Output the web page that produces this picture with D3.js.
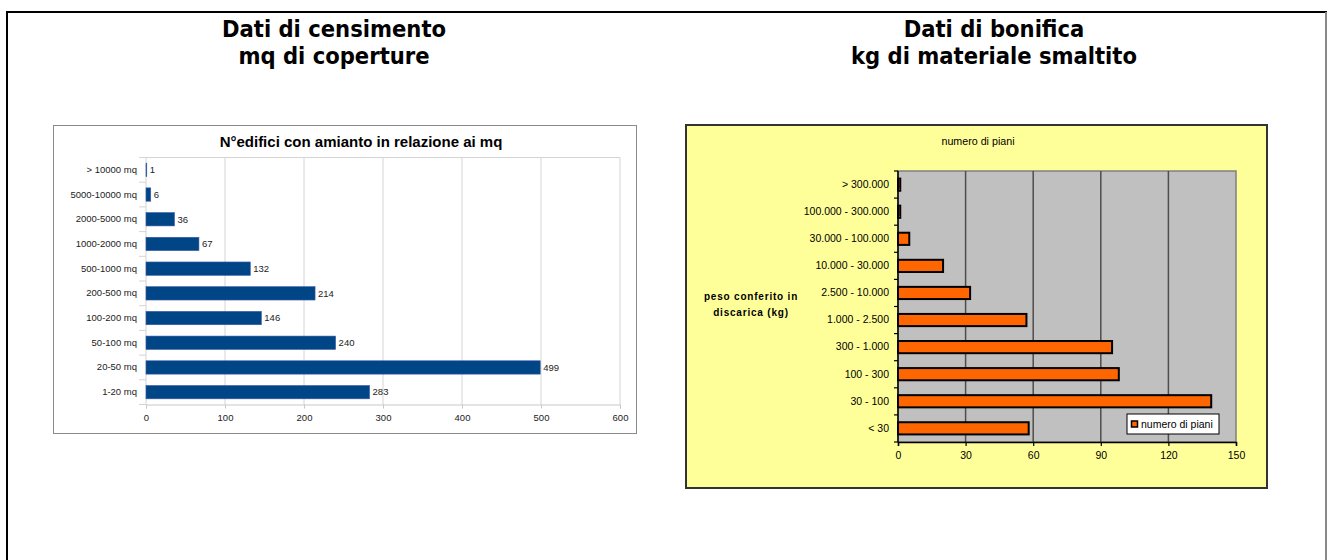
<!DOCTYPE html>
<html>
<head>
<meta charset="utf-8">
<script src="https://cdn.jsdelivr.net/npm/d3@7"></script>
<style>
  body { margin: 0; background: #fff; }
  svg { display: block; }
</style>
</head>
<body>
<div id="chart"></div>
<script>
// --- data ---
var censCats = ["> 10000 mq", "5000-10000 mq", "2000-5000 mq", "1000-2000 mq", "500-1000 mq",
                "200-500 mq", "100-200 mq", "50-100 mq", "20-50 mq", "1-20 mq"];
var censValues = [1, 6, 36, 67, 132, 214, 146, 240, 499, 283];
var censTicks = [0, 100, 200, 300, 400, 500, 600];

var bonCats = ["> 300.000", "100.000 - 300.000", "30.000 - 100.000", "10.000 - 30.000", "2.500 - 10.000",
               "1.000 - 2.500", "300 - 1.000", "100 - 300", "30 - 100", "< 30"];
var bonValues = [1, 1, 5, 20, 32, 57, 95, 98, 139, 58];
var bonTicks = [0, 30, 60, 90, 120, 150];

var W = 1329, H = 560;
var svg = d3.select("#chart").append("svg")
    .attr("width", W)
    .attr("height", H);

// outer frame
svg.append("rect")
    .attr("x", 7).attr("y", 12)
    .attr("width", 1319).attr("height", 600)
    .attr("fill", "none")
    .attr("stroke", "#000")
    .attr("stroke-width", 2);
svg.append("line")
    .attr("x1", 1326).attr("x2", 1326).attr("y1", 12).attr("y2", 560)
    .attr("stroke", "#888").attr("stroke-width", 2);

// page headings
var headFont = "'DejaVu Sans Condensed', 'DejaVu Sans', sans-serif";
function heading(cx, lines) {
  lines.forEach(function(t, i) {
    svg.append("text")
      .attr("x", cx).attr("y", 37 + i * 27)
      .attr("text-anchor", "middle")
      .style("font-family", headFont)
      .style("font-weight", "bold")
      .style("font-size", "23.5px")
      .text(t);
  });
}
heading(334, ["Dati di censimento", "mq di coperture"]);
heading(994, ["Dati di bonifica", "kg di materiale smaltito"]);

var arial = "'Liberation Sans', Arial, sans-serif";

// ---------- left chart: census ----------
var g1 = svg.append("g");
g1.append("rect")
    .attr("x", 53.5).attr("y", 125.5)
    .attr("width", 583).attr("height", 308)
    .attr("fill", "#fff")
    .attr("stroke", "#8a8a8a");

g1.append("text")
    .attr("x", 361).attr("y", 147)
    .attr("text-anchor", "middle")
    .style("font-family", arial)
    .style("font-weight", "bold")
    .style("font-size", "15px")
    .text("N°edifici con amianto in relazione ai mq");

var x1 = d3.scaleLinear().domain([0, 600]).range([146, 620]);
var y1 = d3.scaleBand().domain(censCats).range([157.5, 404.5]).paddingInner(0.46).paddingOuter(0.23);

// gridlines
g1.selectAll(".grid1")
  .data(censTicks)
  .enter().append("line")
    .attr("x1", function(d) { return x1(d); })
    .attr("x2", function(d) { return x1(d); })
    .attr("y1", 157.5).attr("y2", 404.5)
    .attr("stroke", "#d4d4d4");
g1.append("line")
    .attr("x1", 146).attr("x2", 620).attr("y1", 157.5).attr("y2", 157.5)
    .attr("stroke", "#d4d4d4");

// x axis
var ax1 = g1.append("g")
    .attr("transform", "translate(0,404.5)")
    .call(d3.axisBottom(x1).tickValues(censTicks).tickSize(4).tickPadding(6));
ax1.select(".domain").attr("stroke", "#c8c8c8");
ax1.selectAll(".tick line").attr("stroke", "#c8c8c8");
ax1.selectAll("text").style("font-family", arial).style("font-size", "9.5px").attr("fill", "#222");

// y axis labels + small band ticks
var ay1 = g1.append("g")
    .attr("transform", "translate(146,0)")
    .call(d3.axisLeft(y1).tickSize(0).tickPadding(9));
ay1.select(".domain").remove();
ay1.selectAll("text").style("font-family", arial).style("font-size", "9.5px").attr("fill", "#222");
g1.selectAll(".bt1")
  .data(d3.range(censCats.length + 1))
  .enter().append("line")
    .attr("x1", 139).attr("x2", 146)
    .attr("y1", function(i) { return 157.5 + i * (247 / censCats.length); })
    .attr("y2", function(i) { return 157.5 + i * (247 / censCats.length); })
    .attr("stroke", "#d4d4d4");

// bars
g1.selectAll(".bar1")
  .data(censValues)
  .enter().append("rect")
    .attr("x", x1(0))
    .attr("y", function(d, i) { return y1(censCats[i]); })
    .attr("width", function(d) { return x1(d) - x1(0); })
    .attr("height", y1.bandwidth())
    .attr("fill", "#004586")
    .attr("stroke", "#3a5aa8")
    .attr("stroke-width", 0.6);

g1.selectAll(".val1")
  .data(censValues)
  .enter().append("text")
    .attr("x", function(d) { return x1(d) + 3; })
    .attr("y", function(d, i) { return y1(censCats[i]) + y1.bandwidth() / 2 + 3.3; })
    .style("font-family", arial)
    .style("font-size", "9.5px")
    .attr("fill", "#222")
    .text(function(d) { return d; });

// ---------- right chart: bonifica ----------
var g2 = svg.append("g");
g2.append("rect")
    .attr("x", 686).attr("y", 125)
    .attr("width", 581).attr("height", 363)
    .attr("fill", "#ffff99")
    .attr("stroke", "#333")
    .attr("stroke-width", 2);

g2.append("text")
    .attr("x", 978).attr("y", 145)
    .attr("text-anchor", "middle")
    .style("font-family", arial)
    .style("font-size", "10.7px")
    .text("numero di piani");

var x2 = d3.scaleLinear().domain([0, 150]).range([898, 1236]);
var y2 = d3.scaleBand().domain(bonCats).range([171, 442]).paddingInner(0.55).paddingOuter(0.28);

g2.append("rect")
    .attr("x", 898).attr("y", 171)
    .attr("width", 1236 - 898).attr("height", 442 - 171)
    .attr("fill", "#c0c0c0")
    .attr("stroke", "#808080")
    .attr("stroke-width", 1.5);

g2.selectAll(".grid2")
  .data(bonTicks.slice(1, -1))
  .enter().append("line")
    .attr("x1", function(d) { return x2(d); })
    .attr("x2", function(d) { return x2(d); })
    .attr("y1", 171).attr("y2", 442)
    .attr("stroke", "#4d4d4d")
    .attr("stroke-width", 1.5);

// bars
g2.selectAll(".bar2")
  .data(bonValues)
  .enter().append("rect")
    .attr("x", x2(0))
    .attr("y", function(d, i) { return y2(bonCats[i]); })
    .attr("width", function(d) { return x2(d) - x2(0); })
    .attr("height", y2.bandwidth())
    .attr("fill", "#ff6600")
    .attr("stroke", "#000")
    .attr("stroke-width", 2);

// axes
var ax2 = g2.append("g")
    .attr("transform", "translate(0,442)")
    .call(d3.axisBottom(x2).tickValues(bonTicks).tickSize(4).tickPadding(6));
ax2.select(".domain").attr("stroke", "#000").attr("stroke-width", 1.5);
ax2.selectAll(".tick line").attr("stroke", "#000").attr("stroke-width", 1.2);
ax2.selectAll("text").style("font-family", arial).style("font-size", "10.5px").attr("fill", "#000");

var ay2 = g2.append("g")
    .attr("transform", "translate(898,0)")
    .call(d3.axisLeft(y2).tickSize(0).tickPadding(9));
ay2.select(".domain").remove();
ay2.selectAll("text").style("font-family", arial).style("font-size", "10.5px").attr("fill", "#000");
g2.append("line")
    .attr("x1", 898).attr("x2", 898).attr("y1", 171).attr("y2", 442)
    .attr("stroke", "#000").attr("stroke-width", 1.5);
g2.selectAll(".bt2")
  .data(d3.range(bonCats.length + 1))
  .enter().append("line")
    .attr("x1", 894).attr("x2", 898)
    .attr("y1", function(i) { return 171 + i * (271 / bonCats.length); })
    .attr("y2", function(i) { return 171 + i * (271 / bonCats.length); })
    .attr("stroke", "#000").attr("stroke-width", 1.2);

// y axis title
["peso conferito in", "discarica (kg)"].forEach(function(t, i) {
  g2.append("text")
    .attr("x", 751).attr("y", 300 + i * 16)
    .attr("text-anchor", "middle")
    .style("font-family", arial)
    .style("font-weight", "bold")
    .style("font-size", "10px")
    .style("letter-spacing", "0.8px")
    .text(t);
});

// legend
var lg = g2.append("g").attr("transform", "translate(1127,414)");
lg.append("rect")
    .attr("width", 92).attr("height", 20)
    .attr("fill", "#fff")
    .attr("stroke", "#000");
lg.append("rect")
    .attr("x", 4.5).attr("y", 7)
    .attr("width", 6).attr("height", 6)
    .attr("fill", "#ff6600")
    .attr("stroke", "#000")
    .attr("stroke-width", 1.5);
lg.append("text")
    .attr("x", 14).attr("y", 13.5)
    .style("font-family", arial)
    .style("font-size", "10.5px")
    .text("numero di piani");
</script>
</body>
</html>
